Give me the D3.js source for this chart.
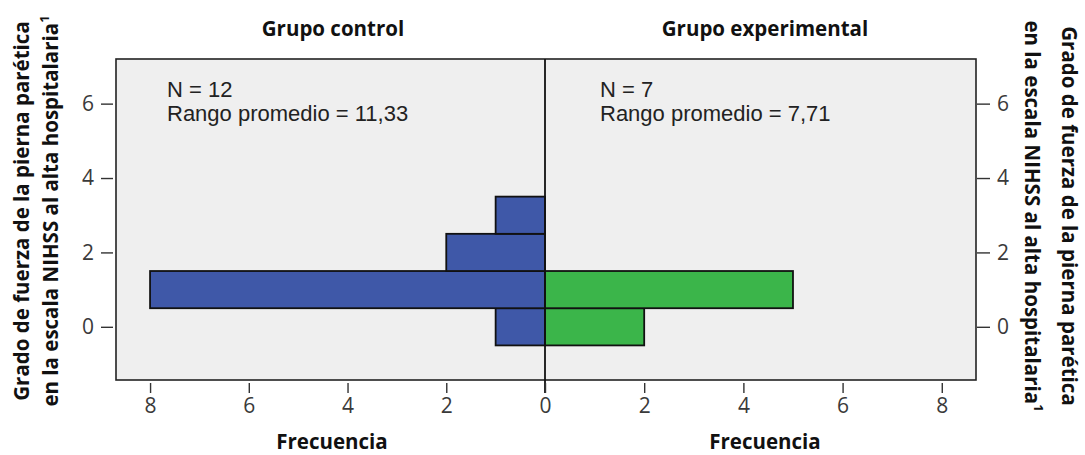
<!DOCTYPE html>
<html><head><meta charset="utf-8">
<script src="https://cdn.jsdelivr.net/npm/d3@7"></script>
<style>body{margin:0;background:#fff}svg{display:block}</style>
</head><body>
<svg id="c" width="1085" height="455"></svg>
<script>
const bins = [0, 1, 2, 3];
const controlFreq = [1, 8, 2, 1];
const experimentalFreq = [2, 5, 0, 0];
const xTicks = [0, 2, 4, 6, 8];
const yTicks = [0, 2, 4, 6];
const groupTitles = ["Grupo control", "Grupo experimental"];
const statsControl = ["N = 12", "Rango promedio = 11,33"];
const statsExperimental = ["N = 7", "Rango promedio = 7,71"];
const yTitle = ["Grado de fuerza de la pierna parética", "en la escala NIHSS al alta hospitalaria"];

const svg = d3.select("#c");
const L = 116, R = 976, T = 59, B = 380, C = 545;
const xL = d3.scaleLinear().domain([0, 8.69]).range([C, L]);
const xR = d3.scaleLinear().domain([0, 8.69]).range([C, R]);
const y = d3.scaleLinear().domain([-1.43, 7.2]).range([B, T]);
const font = "'Open Sans', sans-serif";

svg.append("rect").attr("x", L).attr("y", T).attr("width", R - L).attr("height", B - T)
  .attr("fill", "#efefef").attr("stroke", "#222").attr("stroke-width", 1.6);

function bars(data, xs, color) {
  svg.append("g").selectAll("rect").data(bins.map((b, i) => ({b, v: data[i]})).filter(d => d.v > 0))
    .join("rect")
    .attr("x", d => Math.min(xs(0), xs(d.v)))
    .attr("width", d => Math.abs(xs(d.v) - xs(0)))
    .attr("y", d => y(d.b + 0.5))
    .attr("height", d => y(d.b - 0.5) - y(d.b + 0.5))
    .attr("fill", color).attr("stroke", "#111").attr("stroke-width", 1.8);
}
bars(controlFreq, xL, "#3f58a8");
bars(experimentalFreq, xR, "#3bb54a");

svg.append("line").attr("x1", C).attr("x2", C).attr("y1", T).attr("y2", B + 13)
  .attr("stroke", "#111").attr("stroke-width", 1.8);

function styleAxis(g) {
  g.select(".domain").remove();
  g.selectAll(".tick line").attr("stroke", "#333").attr("stroke-width", 1.4);
  g.selectAll(".tick text").attr("font-family", font).attr("font-size", 21).attr("fill", "#3a3a3a");
}
svg.append("g").attr("transform", `translate(0,${B + 3})`)
  .call(d3.axisBottom(xL).tickValues(xTicks.filter(d => d > 0)).tickSize(10).tickPadding(5).tickFormat(d3.format("d")))
  .call(styleAxis);
svg.append("g").attr("transform", `translate(0,${B + 3})`)
  .call(d3.axisBottom(xR).tickValues(xTicks).tickSize(10).tickPadding(5).tickFormat(d3.format("d")))
  .call(styleAxis);
svg.append("g").attr("transform", `translate(${L - 3},0)`)
  .call(d3.axisLeft(y).tickValues(yTicks).tickSize(12).tickPadding(7).tickFormat(d3.format("d")))
  .call(styleAxis);
svg.append("g").attr("transform", `translate(${R + 1},0)`)
  .call(d3.axisRight(y).tickValues(yTicks).tickSize(13).tickPadding(7).tickFormat(d3.format("d")))
  .call(styleAxis);

// group titles and x titles
[[groupTitles[0], 333, 332], [groupTitles[1], 765, 765]].forEach(([t, x, fx]) => {
  svg.append("text").attr("x", x).attr("y", 36).attr("text-anchor", "middle")
    .attr("font-family", font).attr("font-weight", "bold").attr("font-size", 20.5).attr("fill", "#111").text(t);
  svg.append("text").attr("x", fx).attr("y", 449).attr("text-anchor", "middle")
    .attr("font-family", font).attr("font-weight", "bold").attr("font-size", 20.5).attr("fill", "#111").text("Frecuencia");
});

// stats
function stats(lines, x) {
  lines.forEach((s, i) => svg.append("text").attr("x", x).attr("y", 97 + i * 24)
    .attr("font-family", "'Liberation Sans', Arial, sans-serif").attr("font-size", 22).attr("fill", "#222").text(s));
}
stats(statsControl, 167);
stats(statsExperimental, 600);

// y titles
function yTitleBlock(cx, cy, rot, offs) {
  const g = svg.append("g").attr("transform", `translate(${cx},${cy}) rotate(${rot})`);
  yTitle.forEach((t, i) => {
    const tx = g.append("text").attr("x", 0).attr("y", offs[i]).attr("text-anchor", "middle")
      .attr("font-family", font).attr("font-weight", "bold").attr("font-size", 20.5).attr("fill", "#111").text(t);
    if (i === 1) tx.append("tspan").attr("dy", -9).attr("font-size", 13).text("1");
  });
}
yTitleBlock(0, 211, -90, [29, 58]);
yTitleBlock(1085, 216, 90, [23, 60]);
</script>
</body></html>
